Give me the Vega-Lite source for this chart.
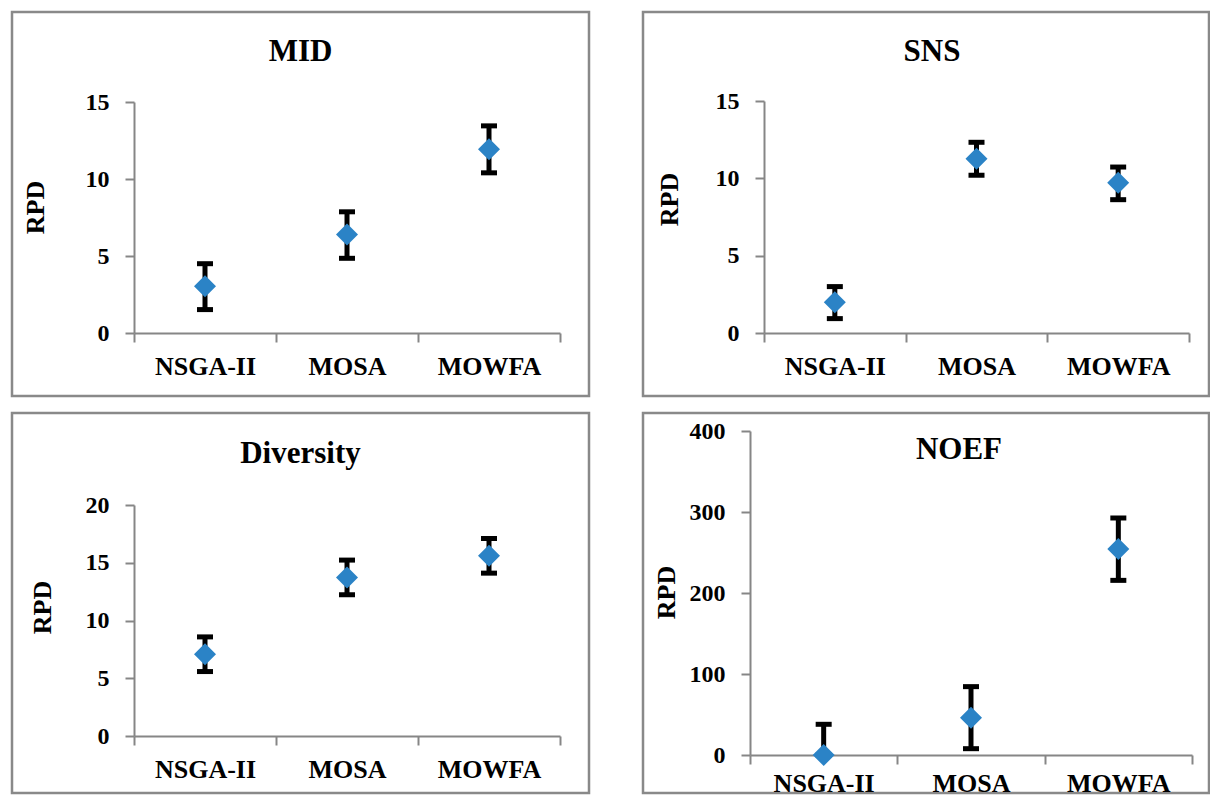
{
  "$schema": "https://vega.github.io/schema/vega-lite/v6.json",
  "autosize": {"type": "pad"},
  "padding": {"left": 10, "top": 10, "right": 0, "bottom": 0},
  "background": "white",
  "datasets": {
    "rpd": [
      {"panel": "MID", "alg": "NSGA-II", "mean": 3.04, "lo": 1.52, "hi": 4.5},
      {"panel": "MID", "alg": "MOSA", "mean": 6.4, "lo": 4.85, "hi": 7.87},
      {"panel": "MID", "alg": "MOWFA", "mean": 11.93, "lo": 10.4, "hi": 13.45},
      {"panel": "SNS", "alg": "NSGA-II", "mean": 1.99, "lo": 0.93, "hi": 3.0},
      {"panel": "SNS", "alg": "MOSA", "mean": 11.27, "lo": 10.2, "hi": 12.33},
      {"panel": "SNS", "alg": "MOWFA", "mean": 9.72, "lo": 8.62, "hi": 10.73},
      {"panel": "Diversity", "alg": "NSGA-II", "mean": 7.08, "lo": 5.58, "hi": 8.58},
      {"panel": "Diversity", "alg": "MOSA", "mean": 13.73, "lo": 12.23, "hi": 15.23},
      {"panel": "Diversity", "alg": "MOWFA", "mean": 15.6, "lo": 14.1, "hi": 17.1},
      {"panel": "NOEF", "alg": "NSGA-II", "mean": 0, "lo": 0, "hi": 37.9},
      {"panel": "NOEF", "alg": "MOSA", "mean": 46, "lo": 7.8, "hi": 84.4},
      {"panel": "NOEF", "alg": "MOWFA", "mean": 254.3, "lo": 215.6, "hi": 292.6}
    ]
  },
  "config": {
    "view": {"stroke": "#898989", "strokeWidth": 2.5, "fill": "white"},
    "title": {"font": "Liberation Serif", "fontWeight": "bold", "fontSize": 31, "color": "black", "anchor": "middle", "frame": "group"},
    "axis": {
      "labelFont": "Liberation Serif", "labelFontWeight": "bold", "labelColor": "black",
      "titleFont": "Liberation Serif", "titleFontWeight": "bold", "titleColor": "black",
      "domainColor": "#868686", "tickColor": "#868686", "domainWidth": 2, "tickWidth": 2,
      "grid": false, "tickSize": 9
    }
  },
  "vconcat": [
    {
      "spacing": 50,
      "hconcat": [
        {
          "width": 577, "height": 384,
          "title": {"text": "MID", "offset": -71, "baseline": "middle"},
          "data": {"name": "rpd"},
          "transform": [{"filter": "datum.panel === 'MID'"}],
          "encoding": {
            "x": {"field": "alg", "type": "nominal", "sort": ["NSGA-II", "MOSA", "MOWFA"],
              "scale": {"type": "band", "range": [122, 548], "paddingInner": 0, "paddingOuter": 0},
              "axis": {"title": null, "labelAngle": 0, "offset": -63, "tickBand": "extent", "labelPadding": 11, "labelFontSize": 26}}
          },
          "layer": [
            {"mark": {"type": "rule", "strokeWidth": 5, "color": "black"},
             "encoding": {
               "y": {"field": "lo", "type": "quantitative",
                 "scale": {"domain": [0, 15], "range": [321, 90], "nice": false, "zero": false},
                 "axis": {"values": [0, 5, 10, 15], "title": "RPD", "offset": -122, "labelPadding": 16, "labelFontSize": 24, "titleFontSize": 26, "titleX": -99, "titleY": 195, "titleAlign": "center", "titleBaseline": "middle", "titleAngle": 270}},
               "y2": {"field": "hi"}}},
            {"mark": {"type": "tick", "thickness": 5, "size": 16, "color": "black", "opacity": 1},
             "encoding": {"y": {"field": "lo", "type": "quantitative"}}},
            {"mark": {"type": "tick", "thickness": 5, "size": 16, "color": "black", "opacity": 1},
             "encoding": {"y": {"field": "hi", "type": "quantitative"}}},
            {"mark": {"type": "point", "shape": "diamond", "filled": true, "size": 484, "color": "#2B83C6", "opacity": 1},
             "encoding": {"y": {"field": "mean", "type": "quantitative"}}}
          ]
        },
        {
          "width": 566, "height": 384,
          "title": {"text": "SNS", "offset": -71, "baseline": "middle", "dx": 6},
          "data": {"name": "rpd"},
          "transform": [{"filter": "datum.panel === 'SNS'"}],
          "encoding": {
            "x": {"field": "alg", "type": "nominal", "sort": ["NSGA-II", "MOSA", "MOWFA"],
              "scale": {"type": "band", "range": [121, 546], "paddingInner": 0, "paddingOuter": 0},
              "axis": {"title": null, "labelAngle": 0, "offset": -63, "tickBand": "extent", "labelPadding": 11, "labelFontSize": 26}}
          },
          "layer": [
            {"mark": {"type": "rule", "strokeWidth": 5, "color": "black"},
             "encoding": {
               "y": {"field": "lo", "type": "quantitative",
                 "scale": {"domain": [0, 15], "range": [321, 89], "nice": false, "zero": false},
                 "axis": {"values": [0, 5, 10, 15], "title": "RPD", "offset": -121, "labelPadding": 16, "labelFontSize": 24, "titleFontSize": 26, "titleX": -95, "titleY": 187, "titleAlign": "center", "titleBaseline": "middle", "titleAngle": 270}},
               "y2": {"field": "hi"}}},
            {"mark": {"type": "tick", "thickness": 5, "size": 16, "color": "black", "opacity": 1},
             "encoding": {"y": {"field": "lo", "type": "quantitative"}}},
            {"mark": {"type": "tick", "thickness": 5, "size": 16, "color": "black", "opacity": 1},
             "encoding": {"y": {"field": "hi", "type": "quantitative"}}},
            {"mark": {"type": "point", "shape": "diamond", "filled": true, "size": 484, "color": "#2B83C6", "opacity": 1},
             "encoding": {"y": {"field": "mean", "type": "quantitative"}}}
          ]
        }
      ]
    },
    {
      "spacing": 50,
      "hconcat": [
        {
          "width": 577, "height": 380,
          "title": {"text": "Diversity", "offset": -72, "baseline": "middle"},
          "data": {"name": "rpd"},
          "transform": [{"filter": "datum.panel === 'Diversity'"}],
          "encoding": {
            "x": {"field": "alg", "type": "nominal", "sort": ["NSGA-II", "MOSA", "MOWFA"],
              "scale": {"type": "band", "range": [122, 548], "paddingInner": 0, "paddingOuter": 0},
              "axis": {"title": null, "labelAngle": 0, "offset": -57, "tickBand": "extent", "labelPadding": 11, "labelFontSize": 26}}
          },
          "layer": [
            {"mark": {"type": "rule", "strokeWidth": 5, "color": "black"},
             "encoding": {
               "y": {"field": "lo", "type": "quantitative",
                 "scale": {"domain": [0, 20], "range": [323, 92], "nice": false, "zero": false},
                 "axis": {"values": [0, 5, 10, 15, 20], "title": "RPD", "offset": -122, "labelPadding": 16, "labelFontSize": 24, "titleFontSize": 26, "titleX": -92, "titleY": 194, "titleAlign": "center", "titleBaseline": "middle", "titleAngle": 270}},
               "y2": {"field": "hi"}}},
            {"mark": {"type": "tick", "thickness": 5, "size": 16, "color": "black", "opacity": 1},
             "encoding": {"y": {"field": "lo", "type": "quantitative"}}},
            {"mark": {"type": "tick", "thickness": 5, "size": 16, "color": "black", "opacity": 1},
             "encoding": {"y": {"field": "hi", "type": "quantitative"}}},
            {"mark": {"type": "point", "shape": "diamond", "filled": true, "size": 484, "color": "#2B83C6", "opacity": 1},
             "encoding": {"y": {"field": "mean", "type": "quantitative"}}}
          ]
        },
        {
          "width": 566, "height": 380,
          "title": {"text": "NOEF", "offset": -68, "baseline": "middle", "dx": 33},
          "data": {"name": "rpd"},
          "transform": [{"filter": "datum.panel === 'NOEF'"}],
          "encoding": {
            "x": {"field": "alg", "type": "nominal", "sort": ["NSGA-II", "MOSA", "MOWFA"],
              "scale": {"type": "band", "range": [107, 549], "paddingInner": 0, "paddingOuter": 0},
              "axis": {"title": null, "labelAngle": 0, "offset": -38, "tickBand": "extent", "labelPadding": 6, "labelFontSize": 26}}
          },
          "layer": [
            {"mark": {"type": "rule", "strokeWidth": 5, "color": "black"},
             "encoding": {
               "y": {"field": "lo", "type": "quantitative",
                 "scale": {"domain": [0, 400], "range": [342, 18], "nice": false, "zero": false},
                 "axis": {"values": [0, 100, 200, 300, 400], "title": "RPD", "offset": -107, "labelPadding": 16, "labelFontSize": 24, "titleFontSize": 26, "titleX": -84, "titleY": 179, "titleAlign": "center", "titleBaseline": "middle", "titleAngle": 270}},
               "y2": {"field": "hi"}}},
            {"mark": {"type": "tick", "thickness": 5, "size": 16, "color": "black", "opacity": 1},
             "encoding": {"y": {"field": "lo", "type": "quantitative"}}},
            {"mark": {"type": "tick", "thickness": 5, "size": 16, "color": "black", "opacity": 1},
             "encoding": {"y": {"field": "hi", "type": "quantitative"}}},
            {"mark": {"type": "point", "shape": "diamond", "filled": true, "size": 484, "color": "#2B83C6", "opacity": 1},
             "encoding": {"y": {"field": "mean", "type": "quantitative"}}}
          ]
        }
      ]
    }
  ],
  "spacing": 13
}
